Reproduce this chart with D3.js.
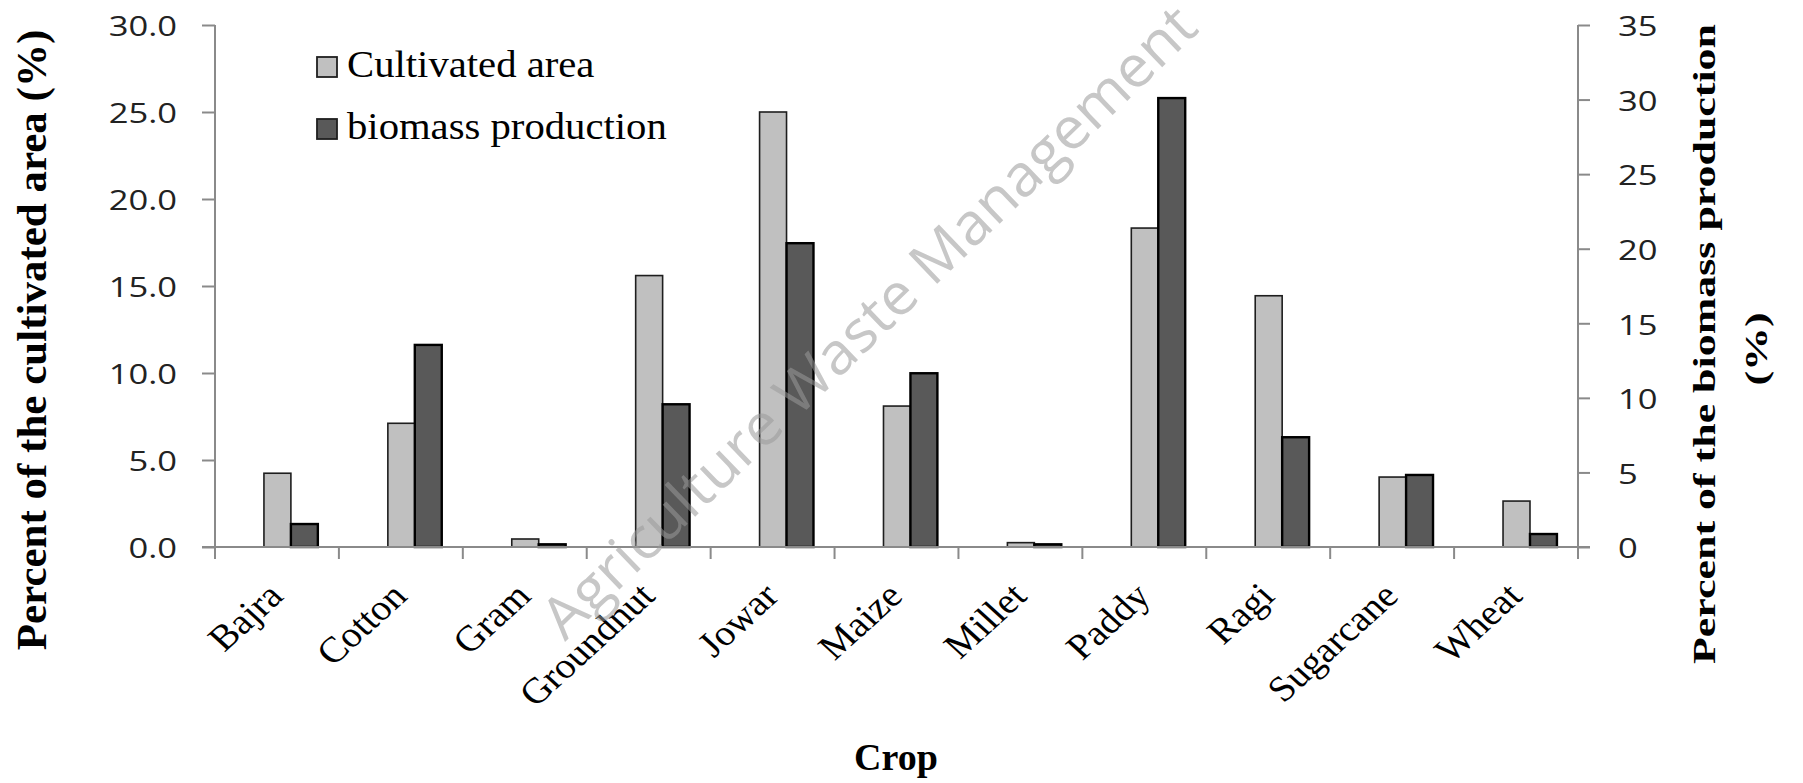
<!DOCTYPE html>
<html>
<head>
<meta charset="utf-8">
<script src="https://cdn.jsdelivr.net/npm/d3@7"></script>
<style>
  body { margin: 0; background: #fff; }
  .serif { font-family: "Liberation Serif", "Times New Roman", serif; }
  .sans { font-family: "Open Sans", "DejaVu Sans", sans-serif; }
</style>
</head>
<body>
<svg class="chart" width="1803" height="783"></svg>
<script>
var crops = ["Bajra", "Cotton", "Gram", "Groundnut", "Jowar", "Maize", "Millet", "Paddy", "Ragi", "Sugarcane", "Wheat"];
var cultivatedArea = [4.24, 7.11, 0.46, 15.6, 25.0, 8.1, 0.25, 18.33, 14.44, 4.02, 2.64];     // left axis, %
var biomassProduction = [1.54, 13.55, 0.18, 9.57, 20.37, 11.65, 0.18, 30.1, 7.36, 4.83, 0.87]; // right axis, %
var leftTicks = [0, 5, 10, 15, 20, 25, 30];
var rightTicks = [0, 5, 10, 15, 20, 25, 30, 35];
var seriesNames = ["Cultivated area", "biomass production"];

var svg = d3.select(".chart");

// note: "top" is taken by window.top, so plot edges get their own names
var plotLeft = 215, plotRight = 1578, plotTop = 25, plotBottom = 547;
var axisColor = "#8a8a8a";
var lightFill = "#c0c0c0", darkFill = "#595959";

var x0 = d3.scaleBand().domain(crops).range([plotLeft, plotRight]);
var bw = x0.bandwidth();
// bars sit a bit right of the band centre, like in the original
var x1 = d3.scaleBand().domain(["area", "bio"]).range([0.395 * bw, 0.83 * bw]);

var yL = d3.scaleLinear().domain([0, 30]).range([plotBottom, plotTop]);
var yR = d3.scaleLinear().domain([0, 35]).range([plotBottom, plotTop]);

var rows = crops.map(function (c, i) {
  return { crop: c, area: cultivatedArea[i], bio: biomassProduction[i] };
});

// left axis
var leftAxis = svg.append("g")
  .attr("transform", "translate(" + plotLeft + ",0)")
  .call(d3.axisLeft(yL).tickValues(leftTicks).tickSize(13).tickPadding(25).tickSizeOuter(0)
    .tickFormat(d3.format(".1f")));
leftAxis.select(".domain").remove();
leftAxis.selectAll("line").attr("stroke", axisColor).attr("stroke-width", 2);
leftAxis.selectAll("text")
  .attr("class", "sans")
  .attr("font-size", 27)
  .attr("fill", "#222")
  .attr("x", -38 / 1.28)
  .attr("dy", "0.4em")
  .attr("transform", "scale(1.28,1)");

// right axis
var rightAxis = svg.append("g")
  .attr("transform", "translate(" + plotRight + ",0)")
  .call(d3.axisRight(yR).tickValues(rightTicks).tickSize(12).tickPadding(28).tickSizeOuter(0)
    .tickFormat(d3.format("d")));
rightAxis.select(".domain").remove();
rightAxis.selectAll("line").attr("stroke", axisColor).attr("stroke-width", 2);
rightAxis.selectAll("text")
  .attr("class", "sans")
  .attr("font-size", 27)
  .attr("fill", "#222")
  .attr("x", 40 / 1.28)
  .attr("dy", "0.4em")
  .attr("transform", "scale(1.28,1)");

// axis lines (they run a little below the baseline, like the tick marks)
svg.append("line").attr("x1", plotLeft).attr("x2", plotLeft).attr("y1", yL(30)).attr("y2", plotBottom + 12)
  .attr("stroke", axisColor).attr("stroke-width", 2);
svg.append("line").attr("x1", plotRight).attr("x2", plotRight).attr("y1", yR(35)).attr("y2", plotBottom + 12)
  .attr("stroke", axisColor).attr("stroke-width", 2);

// bars
var groups = svg.append("g")
  .selectAll("g")
  .data(rows)
  .enter()
  .append("g")
  .attr("transform", function (d) { return "translate(" + x0(d.crop) + ",0)"; });

groups.append("rect")
  .attr("x", x1("area"))
  .attr("y", function (d) { return yL(d.area); })
  .attr("width", x1.bandwidth())
  .attr("height", function (d) { return plotBottom - yL(d.area); })
  .attr("fill", lightFill)
  .attr("stroke", "#1e1e1e")
  .attr("stroke-width", 1.6);

groups.append("rect")
  .attr("x", x1("bio"))
  .attr("y", function (d) { return yR(d.bio); })
  .attr("width", x1.bandwidth())
  .attr("height", function (d) { return plotBottom - yR(d.bio); })
  .attr("fill", darkFill)
  .attr("stroke", "#000")
  .attr("stroke-width", 2.4);

// category axis
svg.append("line").attr("x1", plotLeft - 13).attr("x2", plotRight + 12).attr("y1", plotBottom).attr("y2", plotBottom)
  .attr("stroke", axisColor).attr("stroke-width", 2);

svg.append("g")
  .selectAll("line")
  .data(crops.concat(["_end"]))
  .enter()
  .append("line")
  .attr("x1", function (d, i) { return plotLeft + i * x0.step(); })
  .attr("x2", function (d, i) { return plotLeft + i * x0.step(); })
  .attr("y1", plotBottom)
  .attr("y2", plotBottom + 12)
  .attr("stroke", axisColor)
  .attr("stroke-width", 2);

svg.append("g")
  .selectAll("text")
  .data(crops)
  .enter()
  .append("text")
  .attr("class", "serif")
  .text(function (d) { return d; })
  .attr("transform", function (d) {
    return "translate(" + (x0(d) + bw / 2 + 8) + ",598) scale(1.1,1) rotate(-45)";
  })
  .attr("text-anchor", "end")
  .attr("font-size", 36)
  .attr("fill", "#000");

// titles
svg.append("text")
  .attr("class", "serif")
  .text("Crop")
  .attr("x", 896)
  .attr("y", 770)
  .attr("text-anchor", "middle")
  .attr("font-size", 38)
  .attr("font-weight", "bold");

svg.append("text")
  .attr("class", "serif")
  .text("Percent of the cultivated area (%)")
  .attr("transform", "translate(46,340) rotate(-90)")
  .attr("text-anchor", "middle")
  .attr("font-size", 43)
  .attr("font-weight", "bold");

svg.append("text")
  .attr("class", "serif")
  .text("Percent of the biomass production")
  .attr("transform", "translate(1715,344) rotate(-90)")
  .attr("text-anchor", "middle")
  .attr("font-size", 32)
  .attr("font-weight", "bold")
  .attr("textLength", 640)
  .attr("lengthAdjust", "spacingAndGlyphs");

svg.append("text")
  .attr("class", "serif")
  .text("(%)")
  .attr("transform", "translate(1767,349) rotate(-90)")
  .attr("text-anchor", "middle")
  .attr("font-size", 32)
  .attr("font-weight", "bold")
  .attr("textLength", 73)
  .attr("lengthAdjust", "spacingAndGlyphs");

// legend
var legend = svg.append("g")
  .selectAll("g")
  .data(seriesNames)
  .enter()
  .append("g")
  .attr("transform", function (d, i) { return "translate(317," + (57 + i * 62) + ")"; });

legend.append("rect")
  .attr("width", 20)
  .attr("height", 20)
  .attr("fill", function (d, i) { return i == 0 ? lightFill : darkFill; })
  .attr("stroke", "#1e1e1e")
  .attr("stroke-width", 1.8);

legend.append("text")
  .attr("class", "serif")
  .text(function (d) { return d; })
  .attr("transform", "translate(30,20) scale(1.1,1)")
  .attr("font-size", 37)
  .attr("fill", "#000");

// watermark
svg.append("text")
  .attr("class", "sans")
  .text("Agriculture Waste Management")
  .attr("transform", "translate(565,642) rotate(-43.9)")
  .attr("font-size", 58)
  .attr("textLength", 882)
  .attr("lengthAdjust", "spacingAndGlyphs")
  .attr("fill", "#9a9a9a")
  .attr("opacity", 0.55);
</script>
</body>
</html>
